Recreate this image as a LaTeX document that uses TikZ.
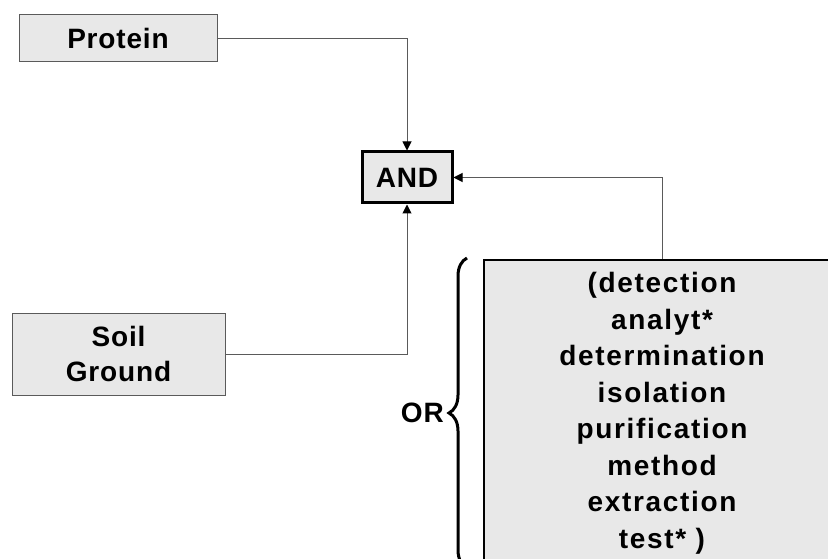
\documentclass[tikz,border=0pt]{standalone}
\usepackage{fontspec}
\setmainfont{Liberation Sans}
\usetikzlibrary{arrows.meta, decorations.pathreplacing}
\definecolor{boxgray}{RGB}{232,232,232}
\definecolor{wiregray}{RGB}{90,90,90}

\begin{document}
\begin{tikzpicture}[x=1pt, y=-1pt,
  term/.style={draw=wiregray, fill=boxgray, line width=1pt, align=center, inner sep=0pt,
    font=\fontsize{28}{35}\selectfont\bfseries\addfontfeature{LetterSpace=3}},
  wire/.style={draw=wiregray, line width=1pt, -{Triangle[length=9pt,width=9pt,color=black]}}]
\useasboundingbox (0,0) rectangle (828,559);
\clip (0,0) rectangle (828,559);
% search terms
\node[term, minimum width=198pt, minimum height=47pt] (protein) at (118,38.5) {Protein};
\node[term, minimum width=213pt, minimum height=82pt] (soil) at (118.5,354) {Soil\\Ground};
\node[term, draw=black, line width=3pt, minimum width=90pt, minimum height=51pt] (and) at (407,177.5) {AND};
\node[term, draw=black, line width=1.5pt, minimum width=357pt, minimum height=320pt, anchor=north west] (methods) at (483,259) {};
\node[align=center, font=\fontsize{28}{36.5}\selectfont\bfseries\addfontfeature{LetterSpace=6}] (terms) at (662,413.5)
  {(detection\\analyt*\\determination\\isolation\\purification\\method\\extraction\\test* )};
% connectors
\draw[wire] (protein.east) -| (and.north);
\draw[wire] (soil.east) -| (and.south);
\draw[wire] (methods.north) |- (and.east);
% brace
\coordinate (bracebot) at (467,568);
\coordinate (bracetop) at (467,258);
\draw[line width=3pt, decorate, decoration={brace, amplitude=18pt}] (bracebot) -- (bracetop);
\node[anchor=east, font=\fontsize{28}{35}\selectfont\bfseries\addfontfeature{LetterSpace=3}, inner sep=0pt] (or) at (444,413) {OR};
\end{tikzpicture}
\end{document}
